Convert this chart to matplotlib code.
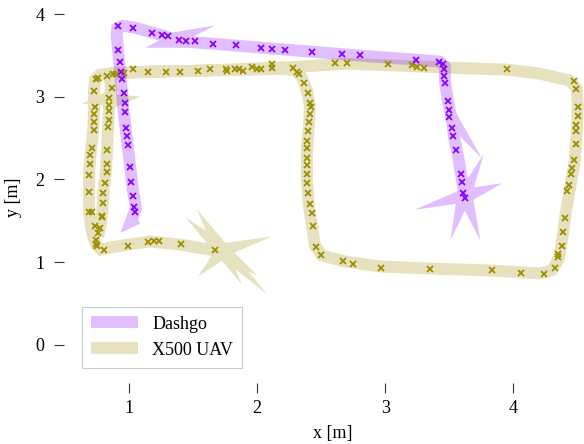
import matplotlib
matplotlib.use("Agg")
import matplotlib.pyplot as plt
from matplotlib.lines import Line2D

# ================================================================================
# trajectories (line) and measurements (x markers), in metres
dashgo_path_x=[1.069,1.018,1.057,1.033,1.010,0.987,0.960,0.940,0.921,0.906,0.910,0.956,1.049,1.244,1.338,
               1.384,1.322,1.439,1.657,2.031,2.429,2.803,3.239,3.426,3.465,3.465,3.489,3.512,3.543,3.520,
               3.536,3.567,3.590,3.606,3.621,3.567,3.621,3.676,3.621,3.637,3.606,3.598,3.621,3.645,3.637]
dashgo_path_y=[1.528,1.492,1.649,1.866,2.167,2.469,2.830,3.194,3.497,3.739,3.823,3.859,3.835,3.750,3.702,
               3.714,3.665,3.665,3.641,3.593,3.545,3.497,3.449,3.424,3.363,3.194,2.952,2.771,2.686,2.722,
               2.517,2.287,2.070,1.925,1.792,1.780,1.816,1.828,1.780,1.865,1.792,1.708,1.780,1.708,1.780]

dashgo_meas_x=[0.92,1.03,1.18,1.26,1.31,1.39,1.45,1.52,1.66,1.84,2.03,2.12,2.22,2.43,2.66,2.80,3.24,3.42,
               3.45,3.46,3.46,3.465,3.49,3.50,3.50,3.52,3.53,3.55,3.59,3.60,3.61,3.62,
               0.92,0.93,0.94,0.95,0.96,0.97,0.97,0.98,0.99,0.995,1.01,1.02,1.03,1.04,1.05]
dashgo_meas_y=[3.85,3.83,3.77,3.75,3.73,3.69,3.67,3.67,3.64,3.62,3.59,3.58,3.57,3.54,3.52,3.50,3.45,3.42,
               3.40,3.34,3.25,3.17,2.95,2.84,2.75,2.62,2.52,2.35,2.07,1.97,1.84,1.77,
               3.57,3.42,3.30,3.21,3.05,2.93,2.82,2.62,2.52,2.42,2.15,1.97,1.80,1.67,1.60]

uav_path_x=[1.727,1.782,1.727,1.774,1.727,1.680,1.719,1.696,1.735,1.704,1.751,1.782,1.743,1.673,
            1.408,1.166,0.994,0.854,0.784,0.745,0.714,0.691,0.691,0.691,0.706,0.722,0.730,0.730,0.738,
            0.776,0.893,1.166,1.556,1.945,2.218,2.304,2.351,2.390,2.413,2.405,2.390,2.390,2.405,2.429,
            2.452,2.507,2.686,2.959,3.348,3.816,4.206,4.299,4.354,4.385,4.408,4.440,4.479,4.494,4.502,
            4.494,4.440,4.206,3.949,3.504,3.115,2.686,2.335,1.945,1.556,1.166,0.893,0.854,0.862,
            0.854,0.807,0.901,0.846,0.846,0.839,0.831,0.823,0.807,0.800,0.792,0.776,0.761]
uav_path_y=[1.152,1.164,1.127,1.091,1.164,1.212,1.140,1.224,1.152,1.079,1.127,1.067,1.115,1.140,
            1.210,1.248,1.210,1.176,1.152,1.212,1.357,1.599,1.865,2.107,2.349,2.590,2.832,3.074,3.207,
            3.267,3.291,3.303,3.315,3.327,3.339,3.315,3.231,3.074,2.893,2.651,2.349,1.986,1.684,1.442,
            1.200,1.079,1.007,0.946,0.922,0.898,0.862,0.898,1.043,1.321,1.599,1.889,2.228,2.590,2.893,
            3.098,3.194,3.279,3.327,3.351,3.375,3.400,3.363,3.339,3.315,3.303,3.279,3.218,3.098,
            3.002,2.966,2.954,2.918,2.832,2.627,2.349,2.107,1.925,1.744,1.563,1.406,1.309]

uav_meas_x=[0.71,0.79,0.74,0.78,0.76,0.745,0.745,0.75,0.81,0.995,1.15,1.20,1.24,1.41,1.67,
            0.69,0.69,0.69,0.70,0.70,0.71,0.73,0.73,0.73,0.74,0.73,0.745,0.76,
            0.79,0.80,0.80,0.815,0.83,0.83,0.83,0.84,0.85,0.85,0.85,0.85,0.87,
            0.83,0.88,0.90,0.96,1.03,1.15,1.29,1.40,1.54,1.63,1.76,1.77,1.83,1.86,1.89,1.96,2.00,2.03,
            2.12,2.12,2.28,2.31,
            2.33,2.37,2.40,2.41,2.42,2.41,2.405,2.40,2.39,2.39,2.39,2.39,2.39,2.39,2.40,2.41,2.43,2.44,
            2.46,2.50,
            2.67,2.75,2.97,3.35,3.83,4.06,4.24,
            4.32,4.35,4.35,4.38,4.385,4.40,4.42,4.43,4.45,4.46,4.47,4.49,4.49,4.49,4.50,4.50,4.49,4.47,
            3.95,3.30,3.25,3.21,3.02,2.70,2.61]
uav_meas_y=[1.61,1.55,1.44,1.41,1.35,1.27,1.22,1.20,1.14,1.20,1.24,1.25,1.26,1.22,1.14,
            1.60,1.85,2.05,2.19,2.29,2.38,2.60,2.70,2.79,2.87,3.07,3.21,3.23,
            1.56,1.71,1.83,1.96,2.09,2.19,2.36,2.63,2.72,2.83,2.90,2.99,3.11,
            3.25,3.27,3.27,3.29,3.33,3.30,3.30,3.30,3.31,3.33,3.33,3.31,3.33,3.34,3.31,3.36,3.33,3.33,
            3.40,3.35,3.35,3.30,
            3.27,3.16,3.05,2.93,2.88,2.79,2.69,2.58,2.47,2.38,2.26,2.18,2.07,1.96,1.83,1.70,1.59,1.44,
            1.18,1.09,
            1.01,0.98,0.93,0.92,0.90,0.87,0.86,
            0.93,1.06,1.10,1.20,1.36,1.53,1.86,1.93,2.07,2.14,2.24,2.43,2.59,2.66,2.77,2.88,3.09,3.19,
            3.34,3.35,3.36,3.38,3.40,3.41,3.41]

labels=["Dashgo","X500 UAV"]
x_ticks=[1,2,3,4]
y_ticks=[0,1,2,3,4]

dashgo_color="#8800ff"
uav_color="#9c8f00"

# ================================================================================
plt.rcParams['font.family']=['Liberation Serif','DejaVu Serif']
plt.rcParams['font.size']=13

fig=plt.figure(figsize=(5.84,4.44),dpi=100)
ax=fig.add_axes([71/584,(444-372)/444,513/584,372/444])

lw=8.6
ax.plot(uav_path_x,uav_path_y,color=uav_color,alpha=0.25,lw=lw,solid_joinstyle='miter',solid_capstyle='butt',zorder=1)
ax.plot(dashgo_path_x,dashgo_path_y,color=dashgo_color,alpha=0.25,lw=lw,solid_joinstyle='miter',solid_capstyle='butt',zorder=2)
ax.plot(uav_meas_x,uav_meas_y,ls='none',marker='x',ms=4,mew=1.3,color=uav_color,zorder=3)
ax.plot(dashgo_meas_x,dashgo_meas_y,ls='none',marker='x',ms=4,mew=1.3,color=dashgo_color,zorder=4)

ax.set_xlim(0.55,4.55)
ax.set_ylim(-0.33,4.17)
ax.set_xticks(x_ticks)
ax.set_yticks(y_ticks)

for s in ax.spines.values():
  s.set_visible(False)
ax.spines['left'].set_position(('outward',5))
ax.spines['bottom'].set_position(('outward',8))
ax.tick_params(axis='both',direction='out',length=7,width=0.8,color='#333333',labelsize=13)
ax.tick_params(axis='y',pad=7)
ax.tick_params(axis='x',pad=5)

ax.set_xlabel("x [m]")
ax.set_ylabel("y [m]")
ax.xaxis.set_label_coords(0.51,-0.142)
ax.yaxis.set_label_coords(-0.096,0.47)

handles=[Line2D([],[],color=dashgo_color,alpha=0.25,lw=lw,solid_capstyle='butt'),
         Line2D([],[],color=uav_color,alpha=0.25,lw=lw,solid_capstyle='butt')]
leg=ax.legend(handles,labels,loc='lower left',bbox_to_anchor=(0.004,-0.013),fancybox=False,
              edgecolor='#cccccc',framealpha=1,handlelength=2.6,fontsize=13,borderpad=0.5)
leg.get_frame().set_linewidth(0.8)

fig.savefig("out.png",dpi=100)
